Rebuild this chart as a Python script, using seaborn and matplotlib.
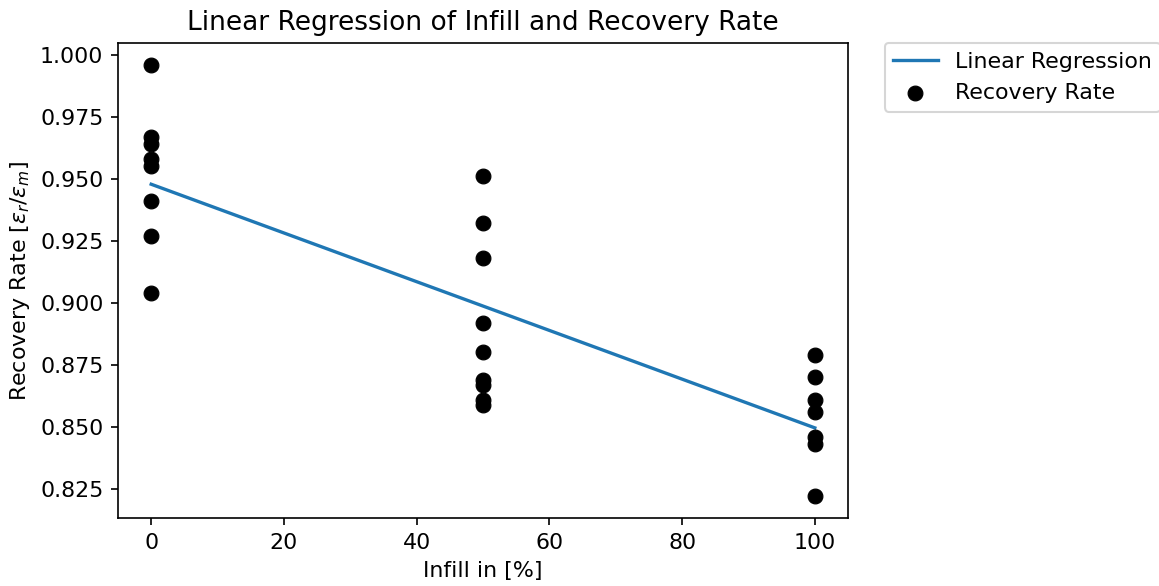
import numpy as np
import pandas as pd
import matplotlib
matplotlib.use("Agg")
import matplotlib.pyplot as plt
import seaborn as sns

infill_0 = [0.996, 0.967, 0.964, 0.958, 0.955, 0.941, 0.927, 0.904]
infill_50 = [0.951, 0.932, 0.918, 0.892, 0.880, 0.869, 0.867, 0.861, 0.859]
infill_100 = [0.879, 0.870, 0.861, 0.856, 0.846, 0.843, 0.822]
infill_levels = [0, 50, 100]

x = [infill_levels[0]] * len(infill_0) + [infill_levels[1]] * len(infill_50) + [infill_levels[2]] * len(infill_100)
y = infill_0 + infill_50 + infill_100
df = pd.DataFrame({"infill": x, "rate": y})

slope, intercept = np.polyfit(df["infill"], df["rate"], 1)
line_df = pd.DataFrame({"infill": infill_levels, "fit": [intercept + slope * v for v in infill_levels]})

plt.rcParams["font.size"] = 10.6

fig = plt.figure(figsize=(1159 / 150, 586 / 150), dpi=150)
ax = fig.add_axes([118 / 1159, 1 - 518 / 586, (848 - 118) / 1159, (518 - 43) / 586])

sns.lineplot(data=line_df, x="infill", y="fit", ax=ax, color="#1f77b4", linewidth=1.6, label="Linear Regression")
sns.scatterplot(data=df, x="infill", y="rate", ax=ax, color="black", edgecolor="black", s=50, label="Recovery Rate", zorder=3)

ax.set_title("Linear Regression of Infill and Recovery Rate", fontsize=12.7)
ax.set_xlabel("Infill in [%]")
ax.set_ylabel(r"Recovery Rate [$\varepsilon_r/\varepsilon_m$]")
ax.set_yticks([0.825, 0.85, 0.875, 0.9, 0.925, 0.95, 0.975, 1.0])
ax.set_yticklabels(["0.825", "0.850", "0.875", "0.900", "0.925", "0.950", "0.975", "1.000"])
ax.legend(bbox_to_anchor=(1.05, 1), loc="upper left", borderaxespad=0.0)

fig.savefig("out.png", dpi=150)
